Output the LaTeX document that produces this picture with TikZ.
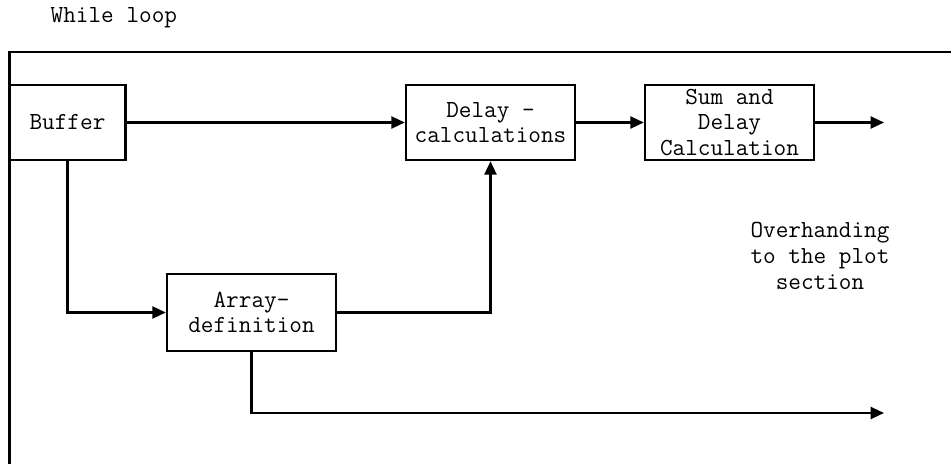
\documentclass[tikz,border=0pt]{standalone}
\usetikzlibrary{arrows.meta, positioning}

\begin{document}
\begin{tikzpicture}[x=0.75pt, y=-0.75pt,
    font=\ttfamily\fontsize{18.4}{19.3}\selectfont,
    block/.style={draw, line width=1.6pt, minimum width=127pt, minimum height=56.5pt, inner sep=0pt, align=center},
    flow/.style={line width=1.6pt, -{Triangle[length=10pt, width=9pt]}}]
    \useasboundingbox (0,0) rectangle (951,464);

    % Loop frame (open at the bottom and right)
    \node[anchor=base west] (title) at (46,22.5) {While loop};
    \draw[line width=1.6pt] (9.5,464) -- (9.5,52) -- (951,52);

    % Processing blocks
    \node[block, minimum width=87pt] (buffer) at (67.5,122.5) {Buffer};
    \node[block] (delay) at (490.5,122.5) {Delay -\\calculations};
    \node[block] (sum) at (729.5,122.5) {Sum and\\Delay\\Calculation};
    \node[block, minimum height=57.75pt] (array) at (251.5,312.5) {Array-\\definition};

    % Outputs
    \coordinate (out1) at (884,122.5);
    \coordinate (out2) at (884,413);
    \node[align=center] (note) at (820,256) {Overhanding\\to the plot\\section};

    % Connections
    \draw[flow] (buffer) -- (delay);
    \draw[flow] (delay) -- (sum);
    \draw[flow] (sum) -- (out1);
    \draw[flow] (buffer.south) |- (array.west);
    \draw[flow] (array.east) -| (delay.south);
    \draw[flow] (array.south) |- (out2);
\end{tikzpicture}
\end{document}
